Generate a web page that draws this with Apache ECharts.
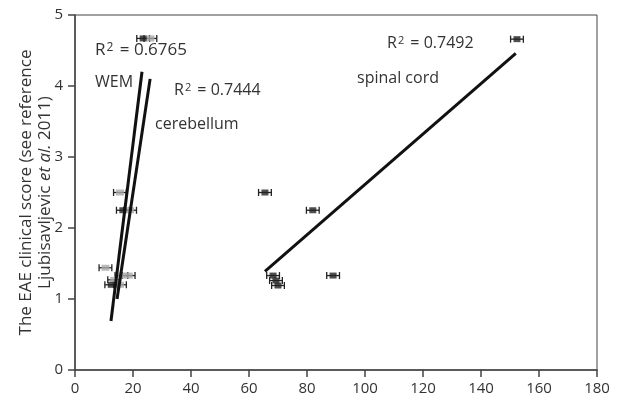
<!DOCTYPE html>
<html style="height: 100%">
<head>
    <meta charset="utf-8">
    <title>EAE score</title>
    <script src="https://cdn.jsdelivr.net/npm/echarts@6/dist/echarts.min.js"></script>
</head>
<body style="height: 100%; margin: 0; background: #fff">
    <div id="main" style="width: 617px; height: 407px"></div>
    <script type="text/javascript">
        // points: [x, y, horizontal error]
        var cerebellumPts = [[26, 4.67, 2.2], [15.5, 2.5, 2.2], [19, 2.25, 2.2], [10.5, 1.44, 2.2],
                             [18.5, 1.33, 2.2], [16, 1.33, 2.2], [13.5, 1.27, 2.2], [15.5, 1.2, 2.2]];
        var wemPts = [[23.5, 4.67, 2.2], [16.5, 2.25, 2.2], [12.5, 1.2, 2.2]];
        var spinalPts = [[65.5, 2.5, 2.2], [82, 2.25, 2.2], [89, 1.33, 2.2], [68.3, 1.33, 2.2],
                         [69.3, 1.26, 2.2], [70, 1.19, 2.2], [152.4, 4.66, 2.2]];
        // fitted lines (two ends each)
        var wemFit = [[12.4, 0.69], [23.1, 4.2]];
        var cerebellumFit = [[14.5, 1.0], [25.9, 4.1]];
        var spinalFit = [[65.5, 1.39], [152, 4.46]];
        var xTicks = [0, 20, 40, 60, 80, 100, 120, 140, 160, 180];
        var yTicks = [0, 1, 2, 3, 4, 5];

        var FONT = 'Open Sans';
        var myChart = echarts.init(document.getElementById('main'));

        function errBar(params, api) {
            var y = api.value(1), x = api.value(0), e = api.value(2);
            var a = api.coord([x - e, y]), b = api.coord([x + e, y]);
            var st = { stroke: '#222', lineWidth: 1.3 };
            return {
                type: 'group',
                children: [
                    { type: 'line', shape: { x1: a[0], y1: a[1], x2: b[0], y2: b[1] }, style: st },
                    { type: 'line', shape: { x1: a[0], y1: a[1] - 3.5, x2: a[0], y2: a[1] + 3.5 }, style: st },
                    { type: 'line', shape: { x1: b[0], y1: b[1] - 3.5, x2: b[0], y2: b[1] + 3.5 }, style: st }
                ]
            };
        }

        // R² labels with a raised 2
        function rLabel(x, y, val, size) {
            return {
                type: 'text', left: x, top: y,
                style: {
                    text: 'R{s|2} = ' + val, fill: '#333', fontSize: size, fontFamily: FONT,
                    rich: { s: { fontSize: Math.round(size * 0.7), verticalAlign: 'top', fontFamily: FONT, fill: '#333', padding: [0, 2, 0, 1] } }
                }
            };
        }
        function note(x, y, txt, size) {
            return { type: 'text', left: x, top: y, style: { text: txt, fill: '#333', fontSize: size, fontFamily: FONT } };
        }

        var allPts = cerebellumPts.concat(wemPts, spinalPts);

        var option = {
            animation: false,
            textStyle: { fontFamily: FONT },
            grid: { left: 75, right: 20, top: 15, bottom: 37, show: true, borderColor: '#444', borderWidth: 1 },
            xAxis: {
                type: 'value', min: 0, max: 180, interval: 20,
                axisLine: { lineStyle: { color: '#444', width: 1.5 } },
                axisTick: { show: true, length: 7, lineStyle: { color: '#444', width: 1.5 } },
                axisLabel: { color: '#333', fontSize: 15, margin: 11, fontFamily: FONT,
                    formatter: function (v) { return xTicks.indexOf(v) >= 0 ? String(v) : ''; } },
                splitLine: { show: false }
            },
            yAxis: {
                type: 'value', min: 0, max: 5, interval: 1,
                axisLine: { show: true, lineStyle: { color: '#444', width: 1.5 } },
                axisTick: { show: true, length: 7, lineStyle: { color: '#444', width: 1.5 } },
                axisLabel: { color: '#333', fontSize: 15, margin: 12, fontFamily: FONT,
                    formatter: function (v) { return yTicks.indexOf(v) >= 0 ? String(v) : ''; } },
                splitLine: { show: false },
                name: 'The EAE clinical score (see reference\nLjubisavljevic {i|et al.} 2011)',
                nameLocation: 'middle', nameGap: 20, nameRotate: 90, nameMoveOverlap: false,
                nameTextStyle: { color: '#333', fontSize: 17, lineHeight: 19, fontFamily: FONT,
                    rich: { i: { fontStyle: 'italic', fontSize: 17, color: '#333', fontFamily: FONT } } }
            },
            series: [
                { type: 'custom', renderItem: errBar, data: allPts, z: 2, silent: true },
                { type: 'scatter', data: cerebellumPts, symbol: 'rect', symbolSize: [8, 6],
                  itemStyle: { color: '#a9a9a9' }, z: 3 },
                { type: 'scatter', data: wemPts, symbol: 'rect', symbolSize: [7, 6],
                  itemStyle: { color: '#222' }, z: 3 },
                { type: 'scatter', data: spinalPts, symbol: 'rect', symbolSize: [7, 6],
                  itemStyle: { color: '#222' }, z: 3 },
                { type: 'line', data: wemFit, showSymbol: false, lineStyle: { color: '#111', width: 3 }, z: 4 },
                { type: 'line', data: cerebellumFit, showSymbol: false, lineStyle: { color: '#111', width: 3 }, z: 4 },
                { type: 'line', data: spinalFit, showSymbol: false, lineStyle: { color: '#111', width: 3 }, z: 4 }
            ],
            graphic: [
                rLabel(95, 42, '0.6765', 17),
                note(95, 74, 'WEM', 16),
                rLabel(174, 82, '0.7444', 16),
                note(155, 116, 'cerebellum', 16),
                rLabel(387, 35, '0.7492', 16),
                note(357, 70, 'spinal cord', 16)
            ]
        };
        myChart.setOption(option);
    </script>
</body>
</html>
